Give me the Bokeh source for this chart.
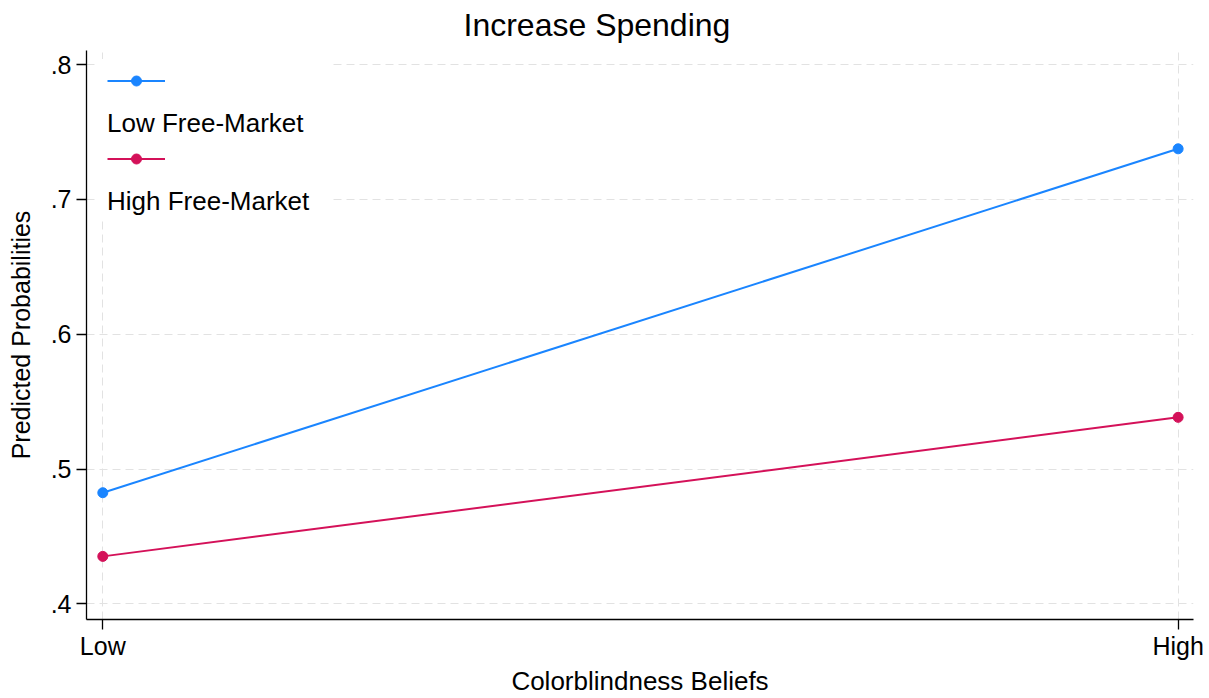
import numpy as np
from bokeh.plotting import figure
from bokeh.models import FixedTicker, Legend, LegendItem, Range1d, Title
from bokeh.embed import file_html
from bokeh.resources import INLINE

# ---- data ----
title_text = "Increase Spending"
x_title = "Colorblindness Beliefs"
y_title = "Predicted Probabilities"
categories = ["Low", "High"]
series_names = ["Low Free-Market", "High Free-Market"]
low_free_market = [0.4825, 0.7375]
high_free_market = [0.4353, 0.5384]
y_ticks = [0.4, 0.5, 0.6, 0.7, 0.8]
y_tick_labels = [".4", ".5", ".6", ".7", ".8"]
colors = ["#1a85ff", "#d41159"]

x = list(range(len(categories)))
FONT = "Liberation Sans"

p = figure(width=1209, height=698, output_backend="svg", toolbar_location=None,
           x_range=Range1d(-0.01516, 1.0143), y_range=Range1d(0.3885, 0.8104),
           min_border_left=86, min_border_right=16, min_border_top=49,
           min_border_bottom=79, background_fill_color="white",
           border_fill_color="white")
p.outline_line_color = None

p.title = Title(text=title_text, align="left", offset=377, text_font_size="32px",
                text_font=FONT, text_font_style="normal", text_color="black",
                vertical_align="top", standoff=12)

ghost = p.scatter(x=[], y=[], size=0, fill_alpha=0, line_alpha=0)

key_items = []
label_items = []
for name, vals, color in zip(series_names, [low_free_market, high_free_market], colors):
    ln = p.line(x, vals, line_color=color, line_width=2)
    sc = p.scatter(x, vals, size=10, fill_color=color, line_color=color)
    key_items.append(LegendItem(label=" ", renderers=[ln, sc]))
    label_items.append(LegendItem(label=name, renderers=[ghost]))

# Stata-style legend: each key sits above its label
label_legend = Legend(items=label_items, location="top_left", margin=9, padding=0,
                      spacing=40, glyph_width=12, glyph_height=20, label_standoff=0,
                      label_height=38, label_width=223,
                      label_text_font_size="26px", label_text_font=FONT,
                      label_text_color="black", title=" ", title_text_font_size="10px",
                      title_standoff=34, background_fill_color="white",
                      background_fill_alpha=1.0, border_line_color=None)
key_legend = Legend(items=key_items, location=(21, 448), margin=0, padding=0,
                    spacing=53, glyph_width=58, glyph_height=25, label_standoff=0,
                    label_height=0, label_width=0, label_text_font_size="8px",
                    background_fill_alpha=0.0, border_line_color=None)
p.add_layout(label_legend, "center")
p.add_layout(key_legend, "center")

p.yaxis.ticker = FixedTicker(ticks=y_ticks)
p.yaxis.major_label_overrides = dict(zip(y_ticks, y_tick_labels))
p.xaxis.ticker = FixedTicker(ticks=x)
p.xaxis.major_label_overrides = dict(zip(x, categories))

for ax in (p.xaxis[0], p.yaxis[0]):
    ax.axis_line_color = "black"
    ax.axis_line_width = 1.3
    ax.major_tick_line_color = "black"
    ax.major_tick_line_width = 1.3
    ax.major_tick_in = 0
    ax.major_tick_out = 10
    ax.minor_tick_line_color = None
    ax.major_label_text_font_size = "25px"
    ax.major_label_text_font = FONT
    ax.major_label_text_color = "black"
    ax.axis_label_text_font_size = "26px"
    ax.axis_label_text_font = FONT
    ax.axis_label_text_font_style = "normal"
    ax.axis_label_text_color = "black"

p.xaxis.axis_label = x_title
p.xaxis.major_label_standoff = 2
p.xaxis.axis_label_standoff = 3
p.yaxis.axis_label = y_title
p.yaxis.major_label_standoff = 5
p.yaxis.axis_label_standoff = 13
p.yaxis.axis_label_text_font_size = "25px"

for g in (p.xgrid[0], p.ygrid[0]):
    g.grid_line_color = "#e2e2e2"
    g.grid_line_dash = "8 5"
    g.grid_line_width = 1

open("out.html", "w").write(file_html(p, INLINE))
